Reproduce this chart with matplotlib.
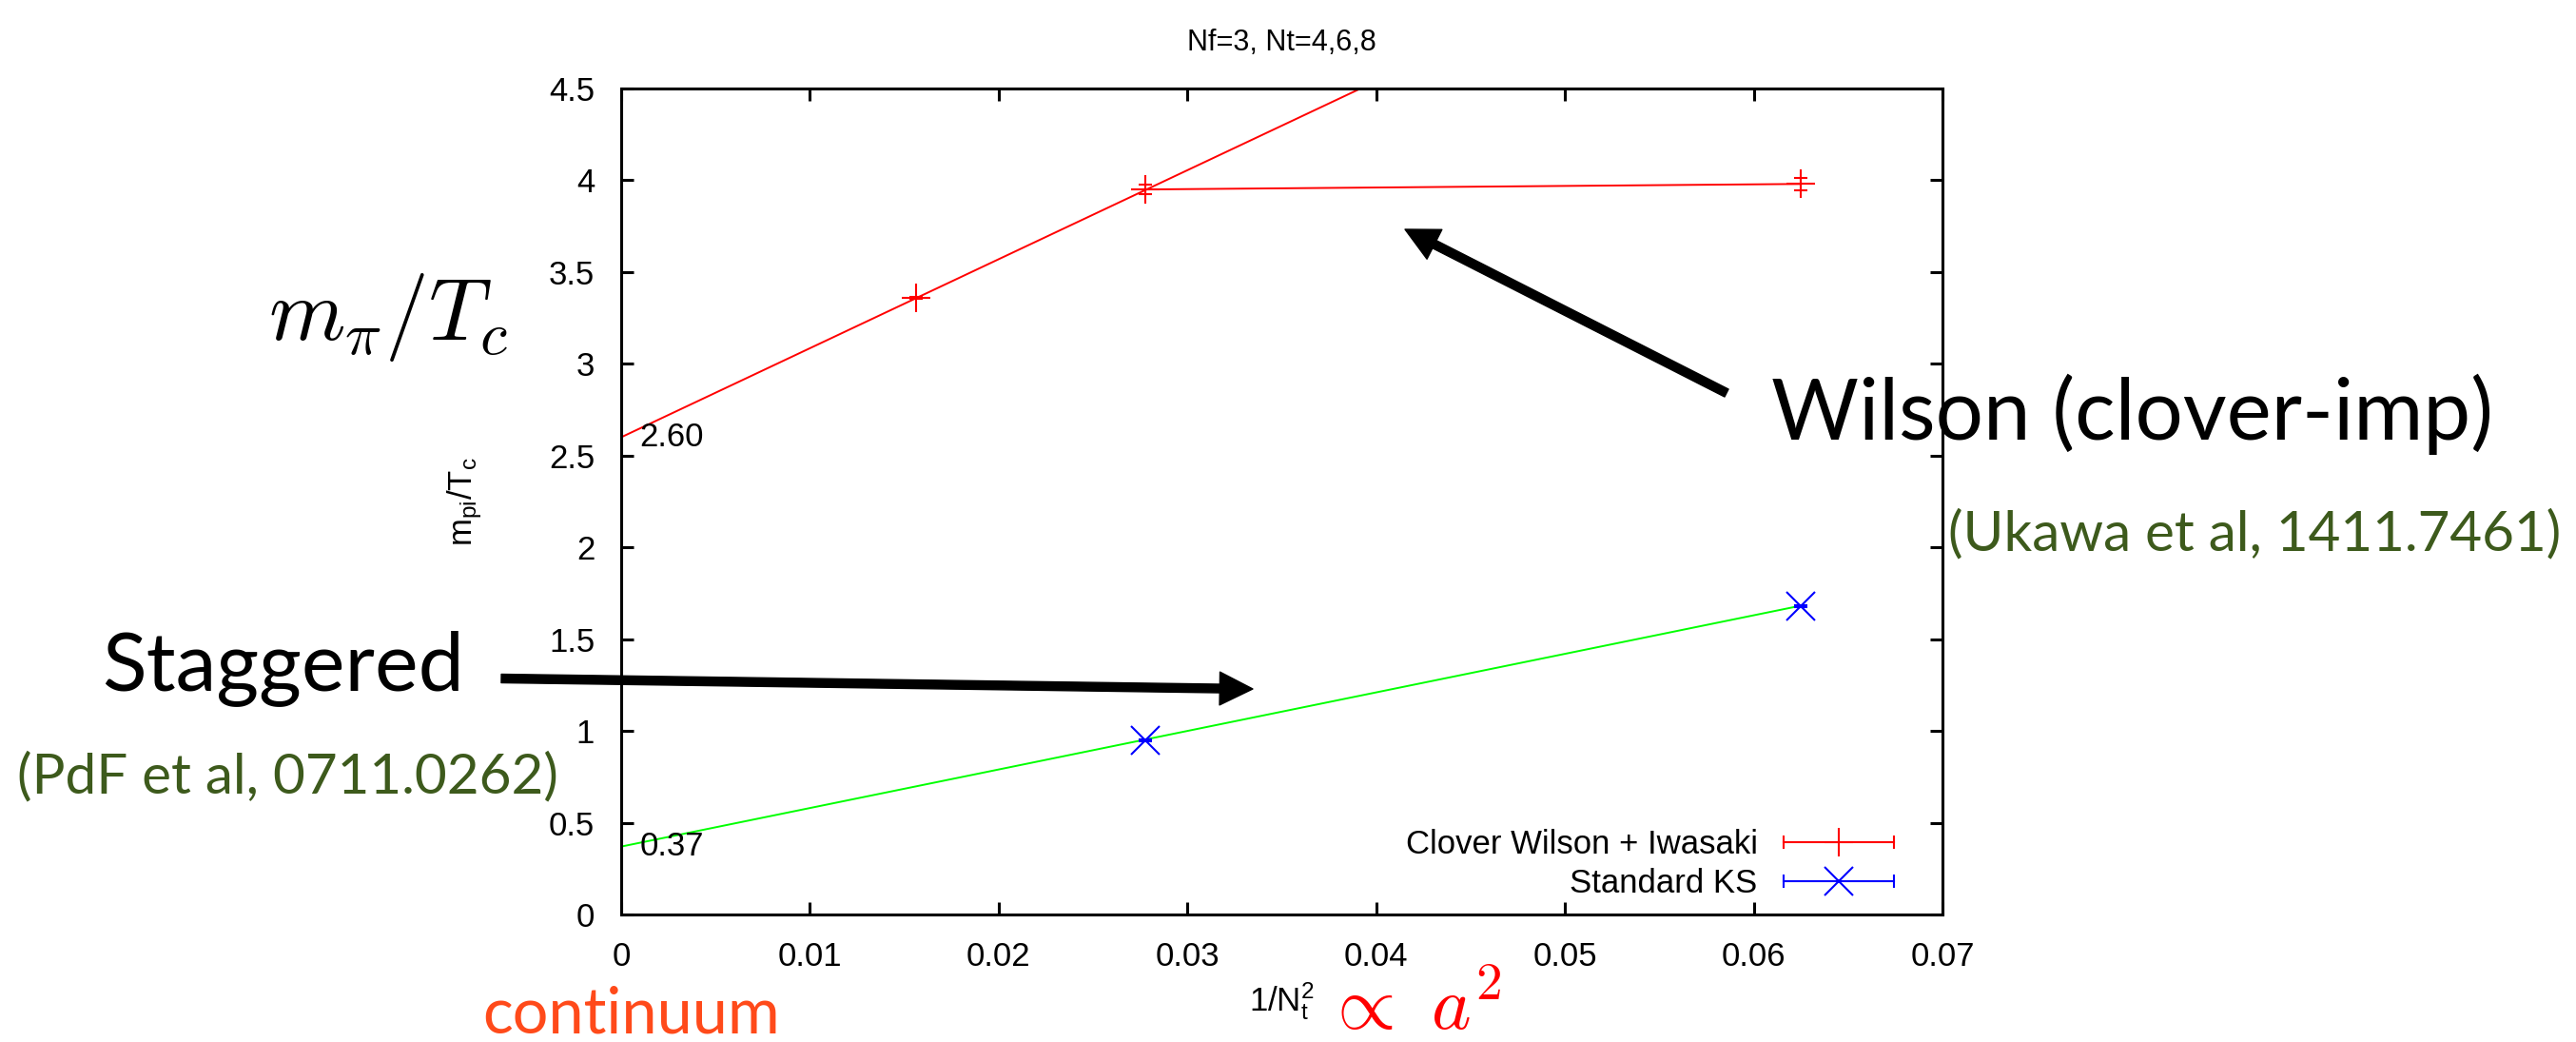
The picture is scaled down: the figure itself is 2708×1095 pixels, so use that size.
import numpy as np
import matplotlib.pyplot as plt
from matplotlib.lines import Line2D
from matplotlib.legend_handler import HandlerLine2D
from matplotlib.ticker import FormatStrFormatter

plt.rcParams['font.family'] = ['Liberation Sans', 'DejaVu Sans']
plt.rcParams['mathtext.fontset'] = 'custom'
plt.rcParams['mathtext.rm'] = 'Liberation Sans'
plt.rcParams['mathtext.it'] = 'Liberation Sans:italic'

# Nf=3 critical pion mass, clover Wilson fermions + Iwasaki gauge action
wilson_nt = [8, 6, 4]
wilson_mpi = [3.36, 3.95, 3.98]
wilson_err = [0.005, 0.024, 0.035]
wilson_c0 = 2.60      # continuum extrapolation (intercept)
wilson_slope = 48.5

# standard staggered (KS) fermions
ks_nt = [6, 4]
ks_mpi = [0.95, 1.68]
ks_err = [0.005, 0.005]
ks_c0 = 0.37
ks_slope = 21.0

xticks = [0, 0.01, 0.02, 0.03, 0.04, 0.05, 0.06, 0.07]
yticks = [0, 0.5, 1, 1.5, 2, 2.5, 3, 3.5, 4, 4.5]

W, H = 2708, 1095


def fpx(x, y):
    # pixel position -> figure fraction
    return x / W, 1 - y / H


fig = plt.figure(figsize=(W / 100, H / 100), dpi=100)
ax = fig.add_axes([653 / W, 1 - 961 / H, 1389 / W, 868 / H])

wx = 1 / np.array(wilson_nt, dtype=float) ** 2
kx = 1 / np.array(ks_nt, dtype=float) ** 2

# fit lines
xl = np.array([0, 0.07])
ax.plot(xl, wilson_c0 + wilson_slope * xl, color='#ff0000', lw=1.4)
ax.plot(wx[1:], wilson_mpi[1:], color='#ff0000', lw=1.4)
xk = np.array([0, kx[-1]])
ax.plot(xk, ks_c0 + ks_slope * xk, color='#00ff00', lw=1.4)

ax.errorbar(wx, wilson_mpi, yerr=wilson_err, fmt='+', color='#ff0000', ms=21, mew=1.5,
            elinewidth=1.5, capsize=4.7, capthick=1.5)
ax.errorbar(kx, ks_mpi, yerr=ks_err, fmt='x', color='#0000ff', ms=21, mew=1.5,
            elinewidth=1.5, capsize=4.7, capthick=1.5)

for c0 in [wilson_c0, ks_c0]:
    ax.annotate('%.2f' % c0, xy=(0, c0), xytext=(14, 0), textcoords='offset points',
                va='center', ha='left', fontsize=25)

ax.set_xlim(0, 0.07)
ax.set_ylim(0, 4.5)
ax.set_xticks(xticks)
ax.set_yticks(yticks)
ax.xaxis.set_major_formatter(FormatStrFormatter('%g'))
ax.yaxis.set_major_formatter(FormatStrFormatter('%g'))
ax.tick_params(direction='in', length=9.5, width=2.2, top=True, right=True,
               labelsize=25, pad=20)
for s in ax.spines.values():
    s.set_linewidth(2.2)

ax.set_title('Nf=3, Nt=4,6,8', fontsize=22, pad=29)
ax.set_ylabel(r'm$_{\mathrm{pi}}$/T$_{\mathrm{c}}$', fontsize=25)
ax.yaxis.set_label_coords(-0.104, 0.5)
ax.set_xlabel(r'1/N$_{\mathrm{t}}^{2}$', fontsize=25)
ax.xaxis.set_label_coords(0.5, -0.079)

# gnuplot-style key: horizontal error bar with the point in the middle
cap_r = Line2D([], [], color='#ff0000', lw=1.5, marker='|', ms=10, mew=1.5)
pt_r = Line2D([], [], ls='none', color='#ff0000', marker='+', ms=21, mew=1.5)
cap_b = Line2D([], [], color='#0000ff', lw=1.5, marker='|', ms=10, mew=1.5)
pt_b = Line2D([], [], ls='none', color='#0000ff', marker='x', ms=21, mew=1.5)
ax.legend([(cap_r, pt_r), (cap_b, pt_b)], ['Clover Wilson + Iwasaki', 'Standard KS'],
          handler_map={cap_r: HandlerLine2D(numpoints=2, marker_pad=0),
                       cap_b: HandlerLine2D(numpoints=2, marker_pad=0)},
          loc='lower right', bbox_to_anchor=(0.963, 0.018), frameon=False,
          markerfirst=False, fontsize=25, handlelength=3.34, handletextpad=0.78,
          borderpad=0, borderaxespad=0, labelspacing=0.25)

# slide annotations
green = '#3d5a1c'
fig.text(*fpx(282, 357), r'$m_\pi/T_c$', fontsize=66, math_fontfamily='cm',
         ha='left', va='baseline')
fig.text(*fpx(1862, 462), 'Wilson (clover-imp)', fontsize=64, family='Lato',
         ha='left', va='baseline')
fig.text(*fpx(2692, 578), '(Ukawa et al, 1411.7461)', fontsize=42, family='Lato',
         color=green, ha='right', va='baseline')
fig.text(*fpx(107, 725), 'Staggered', fontsize=62, family='Lato',
         ha='left', va='baseline')
fig.text(*fpx(18, 833), '(PdF et al, 0711.0262)', fontsize=42, family='Lato',
         color=green, ha='left', va='baseline')
fig.text(*fpx(820, 1086), 'continuum', fontsize=48, family='Lato',
         color='#ff4a1a', ha='right', va='baseline')
fig.text(*fpx(1392, 1082), r'$\propto\ a^2$', fontsize=57, math_fontfamily='cm',
         color='#ff0000', ha='left', va='baseline')

arrow = dict(width=6.5, headwidth=25, headlength=25, facecolor='black',
             edgecolor='black', shrink=0)
fig.add_artist(plt.Annotation('', xy=fpx(1317, 724), xycoords='figure fraction',
                              xytext=fpx(527, 713), textcoords='figure fraction',
                              arrowprops=arrow))
fig.add_artist(plt.Annotation('', xy=fpx(1477, 241), xycoords='figure fraction',
                              xytext=fpx(1815, 413), textcoords='figure fraction',
                              arrowprops=arrow))

fig.savefig('out.png', dpi=100)
